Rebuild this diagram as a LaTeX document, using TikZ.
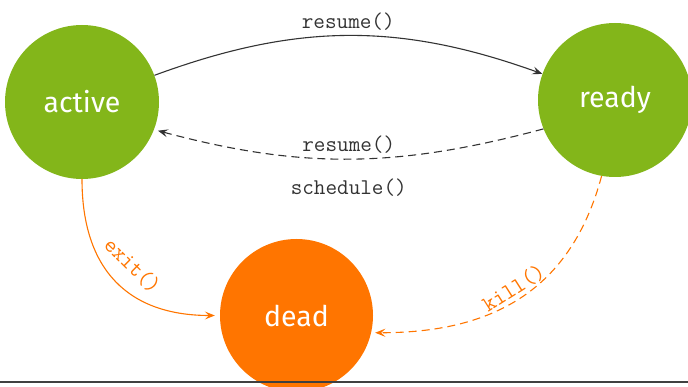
\documentclass[tikz,border=0pt]{standalone}
\usepackage{fontspec}
\setsansfont{Fira Sans}
\usetikzlibrary{arrows.meta}
\definecolor{stgreen}{RGB}{131,182,26}
\definecolor{storange}{RGB}{255,117,0}
\definecolor{edgegray}{RGB}{51,51,51}
\definecolor{rulegray}{RGB}{64,64,64}

\begin{document}
\begin{tikzpicture}[x=1pt,y=-1pt,
  state/.style={circle, minimum size=154pt, inner sep=0pt, text=white,
    font=\sffamily\fontsize{28.5}{34}\selectfont},
  call/.style={font=\ttfamily\fontsize{22.5}{26}\selectfont, inner sep=2pt},
  flow/.style={-{Stealth[length=10pt,width=8pt,inset=4pt]}, line width=1.1pt},
  dashflow/.style={flow, dash pattern=on 8pt off 5pt},
]
\useasboundingbox (0,0) rectangle (688,387);

% states
\node[state, fill=stgreen] (active) at (82,102) {active};
\node[state, fill=stgreen] (ready) at (615,100) {ready};
\node[state, fill=storange, minimum size=153pt] (dead) at (296.5,315.5) {dead};

% transitions between the two live states
\draw[flow, edgegray] (active) to[bend left=20]
  node[call, above=3pt] {resume()} (ready);
\draw[dashflow, edgegray, shorten >=4pt] (ready.202) to[out=195, in=-15]
  node[call, above=3pt] {resume()}
  node[call, below=17pt] {schedule()} (active.-21);

% transitions into the dead state
\draw[flow, storange, shorten >=5pt] (active.south) to[out=-90, in=180, looseness=1.2]
  node[call, sloped, above=11pt, text=storange] {exit()} (dead.west);
\draw[dashflow, storange, shorten >=4pt] (ready.260) to[out=255, in=0, looseness=1.1]
  node[call, sloped, above=0pt, text=storange] {kill()} (dead.-13);

% bottom rule
\draw[line width=2pt, rulegray] (0,382) -- (688,382);
\end{tikzpicture}
\end{document}
